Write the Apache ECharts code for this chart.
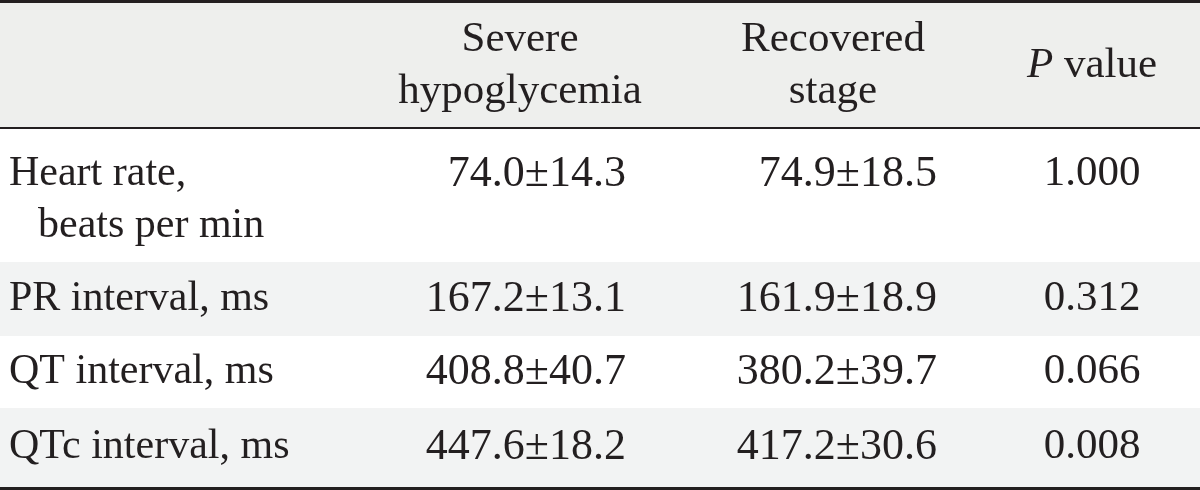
<!DOCTYPE html>
<html>
<head>
<meta charset="utf-8">
<script src="https://cdn.jsdelivr.net/npm/echarts@6/dist/echarts.min.js"></script>
<style>
  html, body { margin: 0; padding: 0; background: #fff; }
  #main { width: 1200px; height: 490px; }
</style>
</head>
<body>
<div id="main"></div>
<script>
// table content
const headers = [['Severe', 'hypoglycemia'], ['Recovered', 'stage'], ['{i|P} value']];
const rowLabels = [['Heart rate,', 'beats per min'], ['PR interval, ms'], ['QT interval, ms'], ['QTc interval, ms']];
const severeMean = [74.0, 167.2, 408.8, 447.6];
const severeSD = [14.3, 13.1, 40.7, 18.2];
const recoveredMean = [74.9, 161.9, 380.2, 417.2];
const recoveredSD = [18.5, 18.9, 39.7, 30.6];
const pValues = [1.000, 0.312, 0.066, 0.008];

const INK = '#231f20';
const FONT = "'Liberation Serif', 'DejaVu Serif', serif";
const FS = 44;       // numbers
const FS_LABEL = 42; // row labels
const FS_HEAD = 43;  // header

// layout (px, canvas space)
const rowTop = [129, 262, 336, 408];
const rowBottom = [262, 336, 408, 487];
const rowTextY = [174, 299, 372, 447];
const colRight = [626, 937];   // right edge of the mean±SD columns
const pCenter = 1092;
const headCenter = [520, 833, 1092];

const chart = echarts.init(document.getElementById('main'));

const fmt = (m, s) => m.toFixed(1) + '\u00b1' + s.toFixed(1);

function renderRow(params, api) {
  const i = api.value(0);
  const tl = api.coord([0, rowTop[i]]);
  const br = api.coord([1200, rowBottom[i]]);
  const children = [];
  if (i % 2 === 1) {
    children.push({
      type: 'rect',
      shape: { x: tl[0], y: tl[1], width: br[0] - tl[0], height: br[1] - tl[1] },
      style: { fill: '#f2f3f3' }
    });
  }
  const txt = (x, y, text, align, size) => ({
    type: 'text',
    x: x, y: y,
    style: { text: text, fill: INK, fontFamily: FONT, fontSize: size || FS, align: align, verticalAlign: 'middle' }
  });
  const y0 = api.coord([0, rowTextY[i]])[1];
  children.push(txt(api.coord([9, 0])[0], y0, rowLabels[i][0], 'left', FS_LABEL));
  if (rowLabels[i][1]) {
    children.push(txt(api.coord([38, 0])[0], y0 + 52, rowLabels[i][1], 'left', FS_LABEL));
  }
  children.push(txt(api.coord([colRight[0], 0])[0], y0, fmt(severeMean[i], severeSD[i]), 'right'));
  children.push(txt(api.coord([colRight[1], 0])[0], y0, fmt(recoveredMean[i], recoveredSD[i]), 'right'));
  children.push(txt(api.coord([pCenter, 0])[0], y0, pValues[i].toFixed(3), 'center', 43));
  return { type: 'group', children: children };
}

// header cells
const headerGraphics = [];
headers.forEach((lines, c) => {
  const ys = lines.length === 2 ? [40, 92] : [66];
  lines.forEach((t, k) => {
    headerGraphics.push({
      type: 'text',
      x: headCenter[c], y: ys[k],
      style: {
        text: t, fill: INK, fontFamily: FONT, fontSize: FS_HEAD, align: 'center', verticalAlign: 'middle',
        rich: { i: { fontStyle: 'italic', fontFamily: FONT, fontSize: FS_HEAD, fill: INK } }
      },
      z: 10
    });
  });
});

const option = {
  animation: false,
  backgroundColor: '#ffffff',
  grid: { left: 0, right: 0, top: 0, bottom: 0 },
  xAxis: { type: 'value', min: 0, max: 1200, show: false },
  yAxis: { type: 'value', min: 0, max: 490, inverse: true, show: false },
  graphic: [
    { type: 'rect', shape: { x: 0, y: 3, width: 1200, height: 124 }, style: { fill: '#eeefed' }, z: 1 },
    { type: 'rect', shape: { x: 0, y: 0, width: 1200, height: 3 }, style: { fill: INK }, z: 5 },
    { type: 'rect', shape: { x: 0, y: 127, width: 1200, height: 2 }, style: { fill: INK }, z: 5 },
    { type: 'rect', shape: { x: 0, y: 487, width: 1200, height: 3 }, style: { fill: INK }, z: 5 }
  ].concat(headerGraphics),
  series: [{
    type: 'custom',
    coordinateSystem: 'cartesian2d',
    renderItem: renderRow,
    data: rowLabels.map((_, i) => [i]),
    silent: true
  }]
};

chart.setOption(option);
</script>
</body>
</html>
